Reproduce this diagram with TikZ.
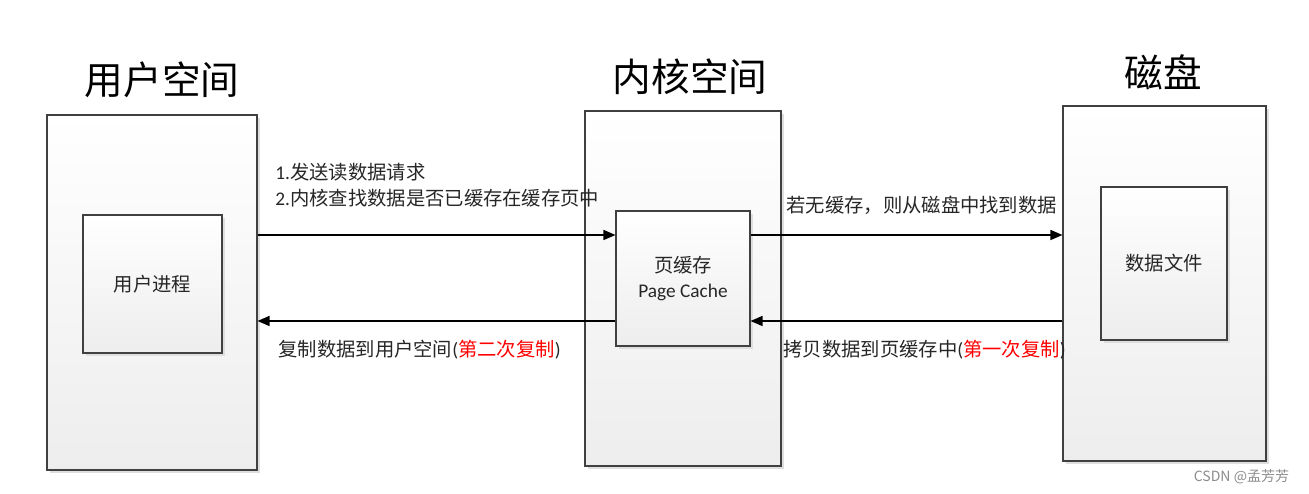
\documentclass[tikz,border=0pt]{standalone}
\usepackage{fontspec}
\setmainfont{Carlito}
\newfontfamily\cjk{Noto Sans CJK SC}
\usetikzlibrary{arrows.meta,shadows}

\begin{document}
\begin{tikzpicture}[
  space/.style={rectangle, draw=black!75, line width=0.6pt, inner sep=0pt,
                top color=white, bottom color=black!7,
                drop shadow={shadow xshift=0.06cm, shadow yshift=-0.06cm, fill=black!13, opacity=1}},
  outer/.style={space, minimum height=7.1cm},
  inner/.style={space, font=\cjk\fontsize{11}{14.2}\selectfont, text=black!85, align=center},
  heading/.style={font=\cjk\fontsize{22}{26}\selectfont},
  note/.style={anchor=west, inner sep=0pt, font=\cjk\fontsize{11}{14}\selectfont, text=black!85},
  arrow/.style={-{Triangle[length=2.4mm, width=2mm]}, line width=0.8pt},
]
\useasboundingbox (0,0) rectangle (26.18,9.88);

% the three spaces
\node[outer, minimum width=4.2cm] (userspace) at (3.04,4.03) {};
\node[outer, minimum width=3.92cm] (kernel) at (13.66,4.11) {};
\node[outer, minimum width=4.06cm] (disk) at (23.29,4.21) {};

\node[heading] (usertitle) at (3.24,8.28) {用户空间};
\node[heading] (kerneltitle) at (13.8,8.34) {内核空间};
\node[heading] (disktitle) at (23.26,8.44) {磁盘};

% what sits inside them
\node[inner, minimum width=2.78cm, minimum height=2.76cm] (userproc) at (3.05,4.2) {用户进程};
\node[inner, minimum width=2.68cm, minimum height=2.7cm] (pagecache) at (13.66,4.31)
  {页缓存\\{\rmfamily Page Cache}};
\node[inner, minimum width=2.52cm, minimum height=3.06cm] (datafile) at (23.28,4.61) {数据文件};

\coordinate (upper) at (0,5.18);
\coordinate (lower) at (0,3.46);

\draw[arrow] (userspace.east |- upper) -- (pagecache.west |- upper);
\draw[arrow] (pagecache.west |- lower) -- (userspace.east |- lower);
\draw[arrow] (pagecache.east |- upper) -- (disk.west |- upper);
\draw[arrow] (disk.west |- lower) -- (pagecache.east |- lower);

\node[note] (step1) at (5.5,6.44) {{\rmfamily 1.}发送读数据请求};
\node[note] (step2) at (5.5,5.92) {{\rmfamily 2.}内核查找数据是否已缓存在缓存页中};
\node[note] (copytwo) at (5.56,2.88)
  {复制数据到用户空间{\rmfamily(}\textcolor{red}{第二次复制}{\rmfamily)}};
\node[note] (lookup) at (15.72,5.78) {若无缓存，则从磁盘中找到数据};
\node[note] (copyone) at (15.66,2.88)
  {拷贝数据到页缓存中{\rmfamily(}\textcolor{red}{第一次复制}{\rmfamily)}};

\node[font=\cjk\fontsize{8}{10}\selectfont, text=black!45] (mark) at (24.83,0.34) {CSDN @孟芳芳};

\end{tikzpicture}
\end{document}
